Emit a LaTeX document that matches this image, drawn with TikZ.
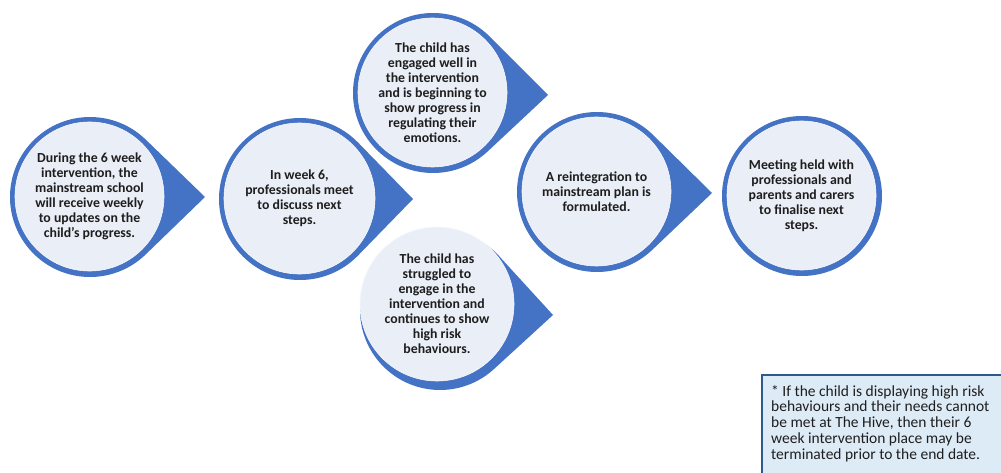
\documentclass[tikz,border=0pt]{standalone}
\usepackage{fontspec}
\setmainfont{Carlito}
\usetikzlibrary{calc}
\definecolor{blueA}{HTML}{4472C4}
\definecolor{lightF}{HTML}{EAEEF7}
\definecolor{txtC}{HTML}{1E1E1E}
\definecolor{boxF}{HTML}{DDEBF7}
\definecolor{boxD}{HTML}{2C5A8C}
\newcommand\teardropshape[5]{%
  \pgfmathsetmacro\tdd{veclen(#4-#1,#5-#2)}%
  \pgfmathsetmacro\tph{atan2(#5-#2,#4-#1)}%
  \pgfmathsetmacro\tth{acos(#3/\tdd)}%
  \fill[blueA] (#4,#5) -- ($(#1,#2)+(\tph+\tth:#3)$)
     arc[start angle=\tph+\tth, end angle=\tph-\tth+360, radius=#3] -- cycle;}
\tikzset{
  inner/.style={circle, fill=lightF, draw=white!60!lightF, line width=0.6pt,
    minimum size=#1, inner sep=0pt, align=center,
    font=\bfseries\fontsize{13.8}{15}\selectfont, text=txtC},
  notebox/.style={draw=boxD, line width=2.5pt, fill=boxF},
  notetext/.style={anchor=north west, inner sep=0pt, align=left,
    font=\fontsize{15.5}{15.7}\selectfont, text=txtC}
}
\begin{document}
\begin{tikzpicture}[x=1pt,y=-1pt]
\useasboundingbox (0,0) rectangle (1001,473);
\clip (0,0) rectangle (1001,473);
\fill[white] (0,0) rectangle (1001,473);
% teardrops
\teardropshape{90}{197}{80}{205}{197}
\teardropshape{300}{199}{81}{413}{199}
\teardropshape{433}{93}{80}{548}{95}
\teardropshape{440}{310}{80}{553}{315}
\teardropshape{597}{192}{80}{712}{193}
\fill[blueA] (802,196) circle[radius=80];
% inner circles with text
\node[inner=149pt] (c1) at (89.5,196.5) {During the 6 week\\intervention, the\\mainstream school\\will receive weekly\\to updates on the\\child’s progress.};
\node[inner=151pt] (c2) at (299.5,198.5) {In week 6,\\professionals meet\\to discuss next\\steps.};
\node[inner=149pt] (c3) at (432.5,92.5) {The child has\\engaged well in\\the intervention\\and is beginning to\\show progress in\\regulating their\\emotions.};
\node[inner=154pt] (c4) at (437,304) {The child has\\struggled to\\engage in the\\intervention and\\continues to show\\high risk\\behaviours.};
\node[inner=149pt] (c5) at (596.5,191.5) {A reintegration to\\mainstream plan is\\formulated.};
\node[inner=149pt] (c6) at (801.5,195.5) {Meeting held with\\professionals and\\parents and carers\\to finalise next\\steps.};
% note box
\draw[notebox] (762,375) rectangle (1012,490);
\node[notetext] (note) at (771,385) {* If the child is displaying high risk\\behaviours and their needs cannot\\be met at The Hive, then their 6\\week intervention place may be\\terminated prior to the end date.};
\end{tikzpicture}
\end{document}
